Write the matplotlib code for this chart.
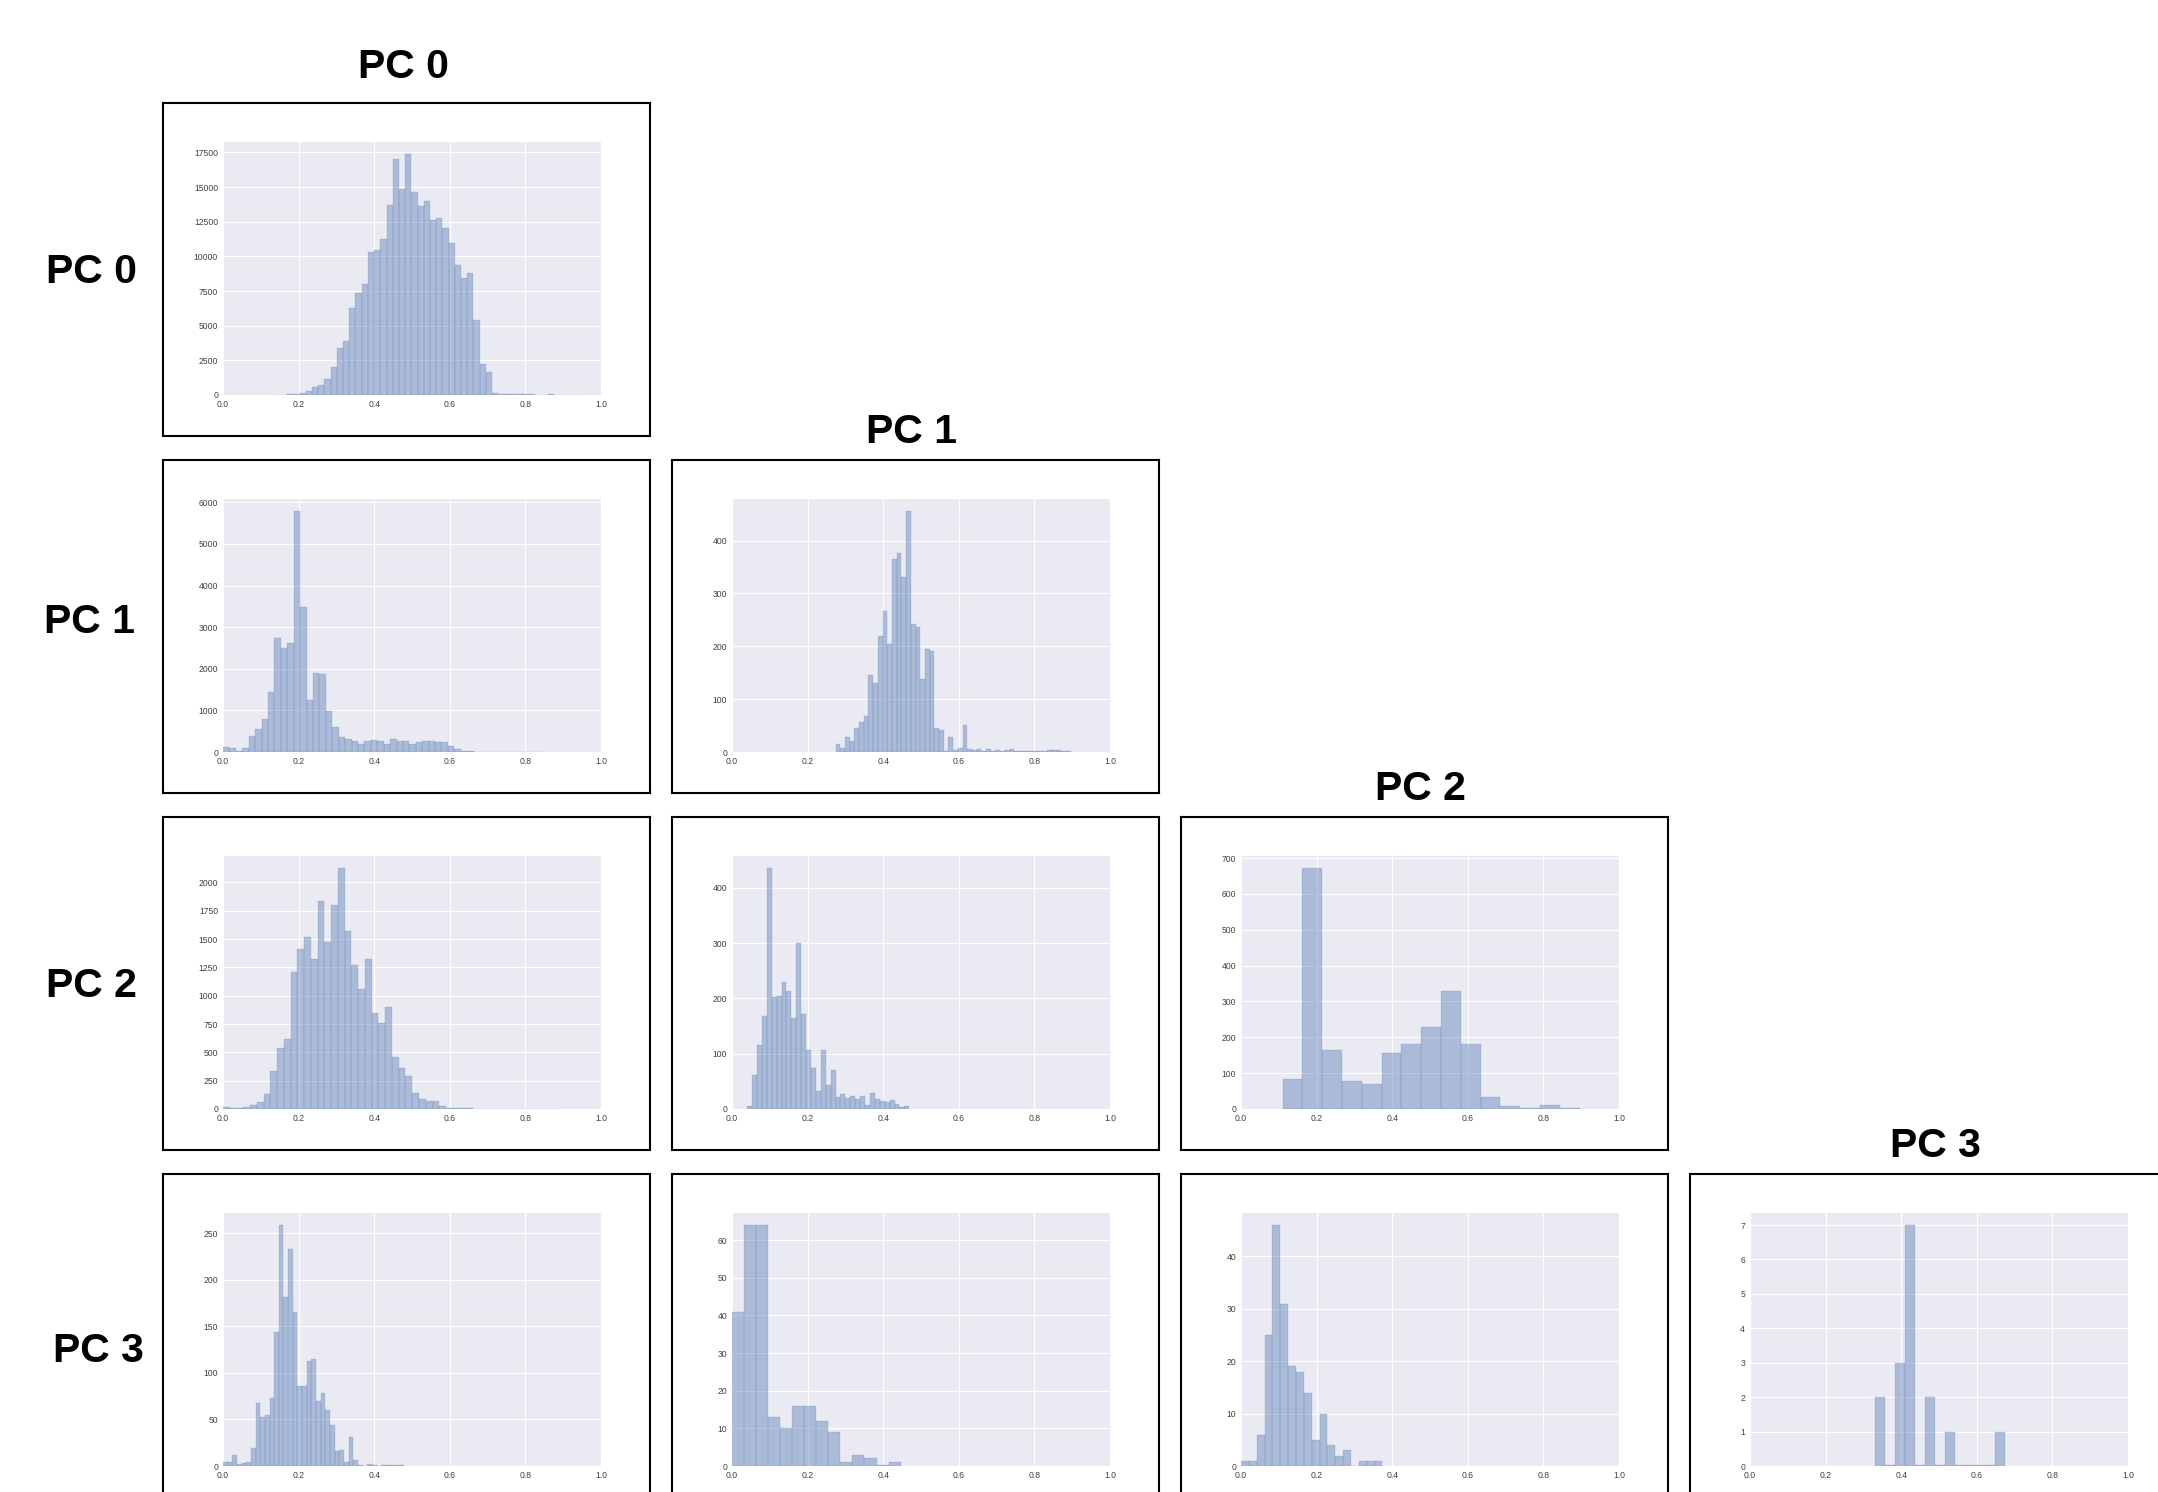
import numpy as np
import matplotlib.pyplot as plt

labels = ['PC 0', 'PC 1', 'PC 2', 'PC 3']

# histogram counts, with the (min, max) range of the bins
counts_0_0 = [30, 30, 80, 80, 170, 300, 600, 720, 1150, 2040,
              3390, 3890, 6270, 7380, 8030, 10310, 10460, 11250, 13700, 17020,
              14860, 17380, 14640, 13630, 13990, 12620, 12760, 12040, 10960, 9380,
              8440, 8800, 5410, 2210, 1660, 120, 70, 60, 60, 60,
              60, 50, 20, 20, 50, 30, 30, 30, 30, 30]
range_0_0 = (0.137, 0.958)

counts_1_0 = [120, 90, 25, 95, 385, 555, 800, 1450, 2730, 2490,
              2610, 5790, 3475, 1255, 1905, 1880, 990, 605, 360, 315,
              265, 195, 265, 290, 265, 195, 315, 265, 265, 195,
              240, 265, 265, 240, 240, 145, 72, 30, 20, 10,
              8, 8, 8, 8, 8, 8, 8, 8, 8, 8]
range_1_0 = (0.0, 0.85)

counts_1_1 = [15, 8, 28, 21, 46, 57, 68, 146, 131, 220,
              266, 205, 365, 376, 332, 456, 243, 237, 139, 195,
              192, 46, 42, 2, 28, 4, 8, 51, 5, 3,
              5, 2, 5, 2, 4, 2, 4, 6, 1, 1,
              2, 1, 2, 1, 1, 4, 4, 4, 1, 2]
range_1_1 = (0.274, 0.896)

counts_2_0 = [18, 9, 9, 18, 35, 62, 133, 337, 540, 620,
              1205, 1409, 1515, 1320, 1835, 1471, 1799, 2127, 1569, 1267,
              1055, 1320, 851, 762, 904, 461, 363, 292, 142, 89,
              71, 71, 27, 9, 9, 9, 9, 4, 4, 4,
              4, 4, 4, 4, 4, 4, 4, 4, 4, 4]
range_2_0 = (0.0, 0.894)

counts_2_1 = [5, 62, 115, 169, 436, 203, 205, 229, 214, 165,
              300, 172, 107, 74, 33, 107, 44, 71, 22, 27,
              20, 24, 18, 24, 7, 29, 18, 15, 13, 16,
              9, 4, 6]
range_2_1 = (0.04, 0.469)

counts_2_2 = [84, 672, 165, 78, 70, 157, 182, 230, 328, 182, 34, 8, 3, 11, 3]
range_2_2 = (0.11, 0.896)

counts_3_0 = [4, 4, 12, 2, 3, 4, 19, 68, 53, 55,
              73, 144, 259, 182, 233, 166, 86, 86, 113, 115,
              70, 78, 60, 44, 16, 17, 4, 31, 6, 1,
              0, 2, 1, 0, 1, 1, 1, 1, 1]
range_3_0 = (0.0, 0.48)

counts_3_1 = [41, 64, 64, 13, 10, 16, 16, 12, 9, 1, 3, 2, 0.3, 1]
range_3_1 = (0.0, 0.446)

counts_3_2 = [1, 1, 6, 25, 46, 31, 19, 18, 14, 5, 10, 4, 2, 3, 0, 1, 1, 1]
range_3_2 = (0.0, 0.374)

counts_3_3 = [2, 0.03, 3, 7, 0.03, 2, 0.03, 1, 0.03, 0.03, 0.03, 0.03, 1]
range_3_3 = (0.332, 0.674)

panels = {
    (0, 0): (counts_0_0, range_0_0),
    (1, 0): (counts_1_0, range_1_0),
    (1, 1): (counts_1_1, range_1_1),
    (2, 0): (counts_2_0, range_2_0),
    (2, 1): (counts_2_1, range_2_1),
    (2, 2): (counts_2_2, range_2_2),
    (3, 0): (counts_3_0, range_3_0),
    (3, 1): (counts_3_1, range_3_1),
    (3, 2): (counts_3_2, range_3_2),
    (3, 3): (counts_3_3, range_3_3),
}

W, H = 2158, 1492
fig = plt.figure(figsize=(W / 100, H / 100), dpi=100)


def rect(x, y, w, h):
    # pixel box (from top-left) -> figure fraction
    return [x / W, 1 - (y + h) / H, w / W, h / H]


def box_pos(r, c):
    return 163 + 509 * c, 103 + 357 * r


for (r, c), (counts, rng) in panels.items():
    bx, by = box_pos(r, c)

    # black frame around each small plot
    box = fig.add_axes(rect(bx, by, 487, 333))
    box.set_xticks([])
    box.set_yticks([])
    for s in box.spines.values():
        s.set_color('black')
        s.set_linewidth(1.5)

    ax = fig.add_axes(rect(bx + 60, by + 39, 378, 253))
    edges = np.linspace(rng[0], rng[1], len(counts) + 1)
    ax.bar(edges[:-1], counts, width=np.diff(edges), align='edge',
           color='#4C72B0', alpha=0.4, edgecolor='#4C72B0', linewidth=0.3)
    ax.set_facecolor('#EAEAF2')
    ax.grid(color='white', linewidth=0.8)
    ax.set_axisbelow(True)
    for s in ax.spines.values():
        s.set_visible(False)
    ax.set_xlim(0, 1)
    ax.set_xticks(np.arange(0, 1.01, 0.2))
    ax.set_ylim(bottom=0)
    ax.tick_params(length=0, labelsize=6.2, labelcolor='0.25', pad=3.5)
    for t in ax.get_xticklabels() + ax.get_yticklabels():
        t.set_family('Liberation Sans')

# column titles above the diagonal, row labels on the left (pixel centres)
col_title_xy = [(403, 67), (911, 432), (1420, 789), (1935, 1146)]
row_label_xy = [(91, 272), (90, 622), (91, 986), (98, 1351)]
for i, lab in enumerate(labels):
    x, y = col_title_xy[i]
    fig.text(x / W, 1 - y / H, lab, ha='center', va='center',
             fontsize=29.5, fontweight='bold', family='Liberation Sans')
    x, y = row_label_xy[i]
    fig.text(x / W, 1 - y / H, lab, ha='center', va='center',
             fontsize=29.5, fontweight='bold', family='Liberation Sans')

fig.savefig('out.png', dpi=100, facecolor='white')
